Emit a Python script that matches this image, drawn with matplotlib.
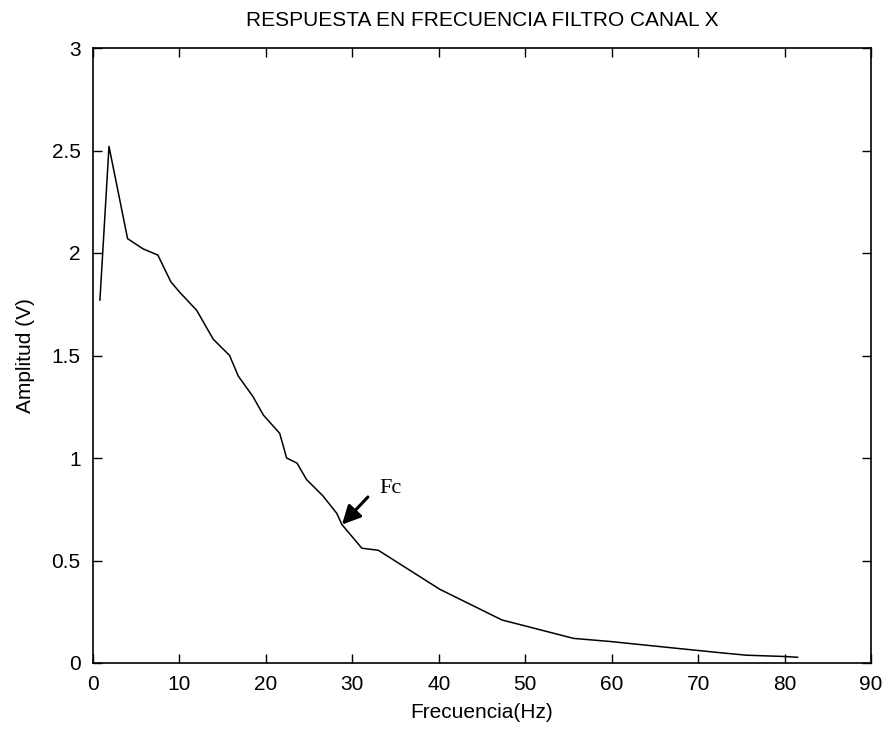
import matplotlib
matplotlib.use('Agg')
import matplotlib.pyplot as plt
import numpy as np

# frequency response
freq = [0.8, 1.85, 4.0, 5.8, 7.5, 9.0, 10.0, 12.0, 13.9, 15.8, 16.8, 18.5, 19.7,
        21.6, 22.4, 23.6, 24.7, 26.6, 28.2, 28.8, 31.1, 33.0, 40.1, 47.3, 55.6,
        59.8, 67.9, 72.6, 75.6, 79.8, 81.5]
amp = [1.77, 2.52, 2.07, 2.02, 1.99, 1.86, 1.81, 1.72, 1.58, 1.50, 1.40, 1.30, 1.21,
       1.12, 1.00, 0.975, 0.895, 0.815, 0.73, 0.675, 0.56, 0.55, 0.36, 0.21, 0.12,
       0.105, 0.07, 0.05, 0.038, 0.032, 0.028]
xticks = np.arange(0, 91, 10)
yticks = [0, 0.5, 1, 1.5, 2, 2.5, 3]
ylabels = ['0', '0.5', '1', '1.5', '2', '2.5', '3']
fc_point = (28.8, 0.675)
fc_tail = (31.8, 0.81)
fc_text = (33.1, 0.83)

plt.rcParams['font.family'] = ['Liberation Sans', 'DejaVu Sans']

fig = plt.figure(figsize=(8.88, 7.30), dpi=100)
ax = fig.add_axes([93/888, 1-663/730, 778/888, 615/730])

ax.plot(freq, amp, color='black', lw=1.1)

# Fc marker: arrow + label
ax.annotate('', xy=fc_point, xytext=fc_tail,
            arrowprops=dict(arrowstyle='-|>', color='black', lw=2.2, mutation_scale=28,
                            shrinkA=0, shrinkB=0))
ax.text(fc_text[0], fc_text[1], 'Fc', family='Liberation Serif', fontsize=16)

ax.set_xlim(0, 90)
ax.set_ylim(0, 3)
ax.set_xticks(xticks)
ax.set_yticks(yticks)
ax.set_yticklabels(ylabels)
ax.tick_params(direction='in', length=6.5, width=1, top=True, right=True,
               labelsize=15)
ax.tick_params(axis='x', pad=9)
ax.tick_params(axis='y', pad=9)
for s in ax.spines.values():
    s.set_linewidth(1.2)

ax.set_xlabel('Frecuencia(Hz)', fontsize=15, labelpad=6)
ax.set_ylabel('Amplitud (V)', fontsize=15, labelpad=12)
ax.set_title('RESPUESTA EN FRECUENCIA FILTRO CANAL X', fontsize=15, pad=16)

plt.savefig('out.png')
